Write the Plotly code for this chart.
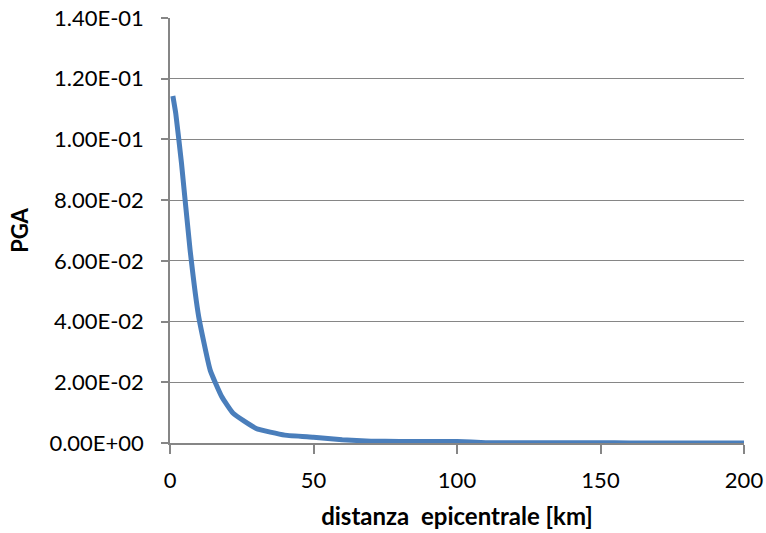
import plotly.graph_objects as go

distanza = [1, 2, 4, 7, 10, 14, 18, 22, 30, 40, 50, 60, 70, 80, 90, 100, 110, 120, 130, 140, 150, 160, 170, 180, 190, 200]
pga = [0.1143, 0.1086, 0.0922, 0.0636, 0.0416, 0.0240, 0.0153, 0.0098, 0.0048, 0.0026, 0.0019, 0.0011, 0.0006, 0.0005, 0.0005, 0.0005, 0.0001, 0.0001, 0.0001, 0.0001, 0.0001, 0.0000, 0.0000, 0.0000, 0.0000, 0.0000]

y_tickvals = [0, 0.02, 0.04, 0.06, 0.08, 0.10, 0.12, 0.14]
y_ticktext = ["0.00E+00", "2.00E-02", "4.00E-02", "6.00E-02", "8.00E-02", "1.00E-01", "1.20E-01", "1.40E-01"]
x_tickvals = [0, 50, 100, 150, 200]

font_family = "Lato, 'Open Sans', sans-serif"
axis_col = "#868686"

fig = go.Figure()
fig.add_trace(go.Scatter(x=distanza, y=pga, mode="lines",
                         line=dict(color="#4A7EBB", width=5, shape="spline", smoothing=0.4),
                         showlegend=False, hoverinfo="skip"))

fig.update_layout(
    width=766, height=533,
    margin=dict(l=170, r=22, t=18, b=90),
    paper_bgcolor="white", plot_bgcolor="white",
    font=dict(family=font_family, size=22, color="black"),
    xaxis=dict(range=[0, 200], tickvals=x_tickvals, showgrid=False, zeroline=False,
               automargin=False,
               showline=True, linecolor=axis_col, linewidth=1.5,
               ticks="outside", ticklen=9, tickwidth=1.5, tickcolor=axis_col,
               tickfont=dict(size=22), ticklabelstandoff=8,
               title=dict(text="<b>distanza  epicentrale [km]</b>", font=dict(size=24), standoff=16)),
    yaxis=dict(range=[0, 0.14], tickvals=y_tickvals, ticktext=y_ticktext,
               automargin=False,
               showgrid=True, gridcolor=axis_col, gridwidth=1, zeroline=False,
               showline=True, linecolor=axis_col, linewidth=1.5,
               ticks="outside", ticklen=7, tickwidth=1.5, tickcolor=axis_col,
               tickfont=dict(size=22), ticklabelstandoff=13,
               title=dict(text="<b>PGA</b>", font=dict(size=22), standoff=15)),
)

fig.write_html("out.html")
